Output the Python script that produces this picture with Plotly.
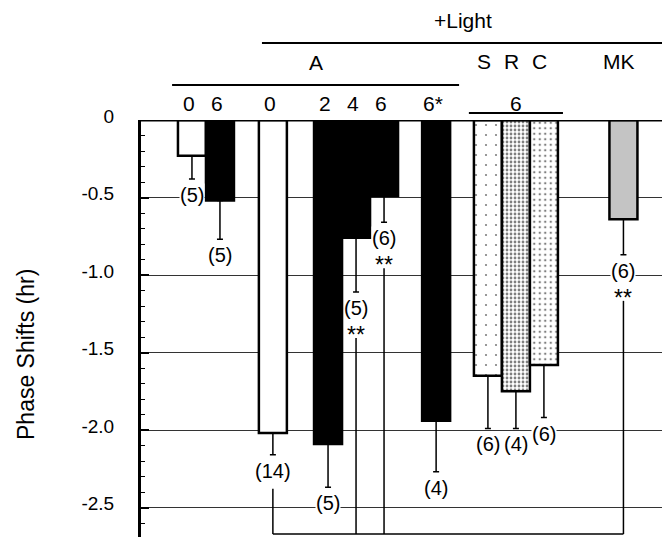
import plotly.graph_objects as go

# ---------------- data ----------------
cond_labels = ["0", "6", "0", "2", "4", "6", "6*", "S", "R", "C", "MK"]
phase_shift = [-0.23, -0.52, -2.02, -2.09, -0.76, -0.49, -1.94, -1.65, -1.75, -1.58, -0.64]
sem = [0.15, 0.25, 0.14, 0.28, 0.35, 0.17, 0.33, 0.34, 0.24, 0.34, 0.23]
n_animals = [5, 5, 14, 5, 5, 6, 4, 6, 4, 6, 6]
significant = [False, False, False, False, True, True, False, False, False, False, True]
reference_bar = 2  # "A 0" with light, compared with the ** bars
y_tick_vals = [0, -0.5, -1.0, -1.5, -2.0, -2.5]
y_tick_text = ["0", "-0.5", "-1.0", "-1.5", "-2.0", "-2.5"]

# ---------------- layout / style ----------------
PAGE = 8                       # default body margin of the html page
W, H = 670 - 2 * PAGE, 545 - 2 * PAGE
AXIS_X, TOP_Y = 141, 120       # window pixel position of the axes corner
ML, MT = AXIS_X - PAGE, TOP_Y - PAGE
PLOT_W, PLOT_H = W - ML, H - MT
PLOT_BOTTOM = PAGE + H
PX_PER_UNIT = 28.0
XMAX = PLOT_W / PX_PER_UNIT
PX_PER_HR = 155.0
YMIN = -PLOT_H / PX_PER_HR
HR_PER_PX = 1.0 / PX_PER_HR

x_pos = [1.82, 2.82, 4.71, 6.68, 7.68, 8.68, 10.54, 12.39, 13.39, 14.39, 17.23]
BAR_W = 1.0

fills = ["white", "black", "white", "black", "black", "black", "black",
         "white", "white", "white", "#c4c4c4"]
patterns = [None] * 7 + [
    dict(shape=".", size=10, solidity=0.035, fgcolor="black", bgcolor="white"),
    dict(shape=".", size=4, solidity=0.38, fgcolor="black", bgcolor="white"),
    dict(shape=".", size=5.5, solidity=0.15, fgcolor="black", bgcolor="white"),
    None,
]
label_bg = ["white"] * 11
label_bg[4] = "rgba(0,0,0,0)"

FONT = "Liberation Sans, Arial, Helvetica, sans-serif"

fig = go.Figure()
for i in range(len(phase_shift)):
    marker = dict(color=fills[i], line=dict(color="black", width=2.5))
    if patterns[i] is not None:
        marker["pattern"] = patterns[i]
    fig.add_trace(go.Bar(
        x=[x_pos[i]], y=[phase_shift[i]], width=[BAR_W],
        marker=marker,
        error_y=dict(type="data", symmetric=False, array=[0], arrayminus=[sem[i]],
                     color="black", thickness=1.5, width=3),
        showlegend=False, hoverinfo="skip",
    ))

annotations = []
shapes = []

# n labels, stars, brackets
for i in range(len(phase_shift)):
    y_end = phase_shift[i] - sem[i]
    annotations.append(dict(
        x=x_pos[i], y=y_end, xref="x", yref="y", text=f"({n_animals[i]})",
        showarrow=False, xanchor="center", yanchor="middle", yshift=-16,
        bgcolor=label_bg[i], borderpad=0,
        font=dict(size=20, color="black", family=FONT)))
    if significant[i]:
        annotations.append(dict(
            x=x_pos[i], y=y_end, xref="x", yref="y", text="**",
            showarrow=False, xanchor="center", yanchor="middle", yshift=-43,
            font=dict(size=23, color="black", family=FONT)))

BRACKET_Y = YMIN + 3 * HR_PER_PX
bracket_bars = [reference_bar] + [i for i, s in enumerate(significant) if s]
for i in bracket_bars:
    off = 34 if i == reference_bar else 46
    y0 = phase_shift[i] - sem[i] - off * HR_PER_PX
    shapes.append(dict(type="line", xref="x", yref="y", x0=x_pos[i], x1=x_pos[i],
                       y0=y0, y1=BRACKET_Y, line=dict(color="black", width=1.5)))
shapes.append(dict(type="line", xref="x", yref="y",
                   x0=x_pos[min(bracket_bars)], x1=x_pos[max(bracket_bars)],
                   y0=BRACKET_Y, y1=BRACKET_Y, line=dict(color="black", width=1.5)))

# top border
shapes.append(dict(type="line", xref="paper", yref="y", x0=0, x1=1, y0=0, y1=0,
                   line=dict(color="black", width=3)))


def py2paper(py):
    return (PLOT_BOTTOM - py) / PLOT_H


def xp(xd):
    return min(xd / XMAX, 1.0)


# header lines
header_lines = [
    (x_pos[2] - 0.39, XMAX, 43),              # +Light
    (x_pos[0] - 0.71, x_pos[6] + 0.82, 85),   # A
    (x_pos[7] - 0.68, x_pos[9] + 0.68, 113),  # S R C -> 6
]
for xa, xb, py in header_lines:
    shapes.append(dict(type="line", xref="paper", yref="paper", x0=xp(xa), x1=xp(xb),
                       y0=py2paper(py), y1=py2paper(py), line=dict(color="black", width=2)))

hdr_font = dict(size=21, color="black", family=FONT)
light_mid = (x_pos[2] - 0.39 + 18.71) / 2
a_mid = (header_lines[1][0] + header_lines[1][1]) / 2


def hdr(x, py, text, xshift=0):
    annotations.append(dict(x=x, y=py2paper(py), xref="x", yref="paper", text=text,
                            showarrow=False, xanchor="center", yanchor="middle",
                            xshift=xshift, font=hdr_font))


hdr(light_mid, 21, "+Light")
hdr(a_mid, 63, "A")
for i in range(7, 11):
    hdr(x_pos[i], 62, cond_labels[i], xshift=-4)
for i in range(7):
    hdr(x_pos[i], 103, cond_labels[i], xshift=-3)
hdr(x_pos[8], 103, "6")

# y title
annotations.append(dict(x=(26 - AXIS_X) / PLOT_W, y=py2paper(355), xref="paper", yref="paper",
                        text="Phase Shifts (hr)", textangle=-90, showarrow=False,
                        xanchor="center", yanchor="middle",
                        font=dict(size=23, color="black", family=FONT)))

fig.update_layout(
    width=W, height=H,
    margin=dict(l=ML, r=0, t=MT, b=0, pad=0),
    paper_bgcolor="white", plot_bgcolor="white",
    barmode="overlay",
    showlegend=False,
    xaxis=dict(range=[0, XMAX], visible=False, fixedrange=True),
    yaxis=dict(
        range=[YMIN, 0], tickvals=y_tick_vals, ticktext=y_tick_text,
        showgrid=True, gridcolor="#333333", gridwidth=1,
        showline=True, linecolor="black", linewidth=3,
        ticks="inside", ticklen=8, tickwidth=1.5, tickcolor="black",
        minor=dict(dtick=0.1, ticks="inside", ticklen=4, tickwidth=1, tickcolor="black",
                   showgrid=False),
        zeroline=False,
        ticklabelstandoff=20, ticklabelshift=-4,
        tickfont=dict(size=19, color="black", family=FONT),
    ),
    annotations=annotations,
    shapes=shapes,
)

fig.write_html("out.html")
